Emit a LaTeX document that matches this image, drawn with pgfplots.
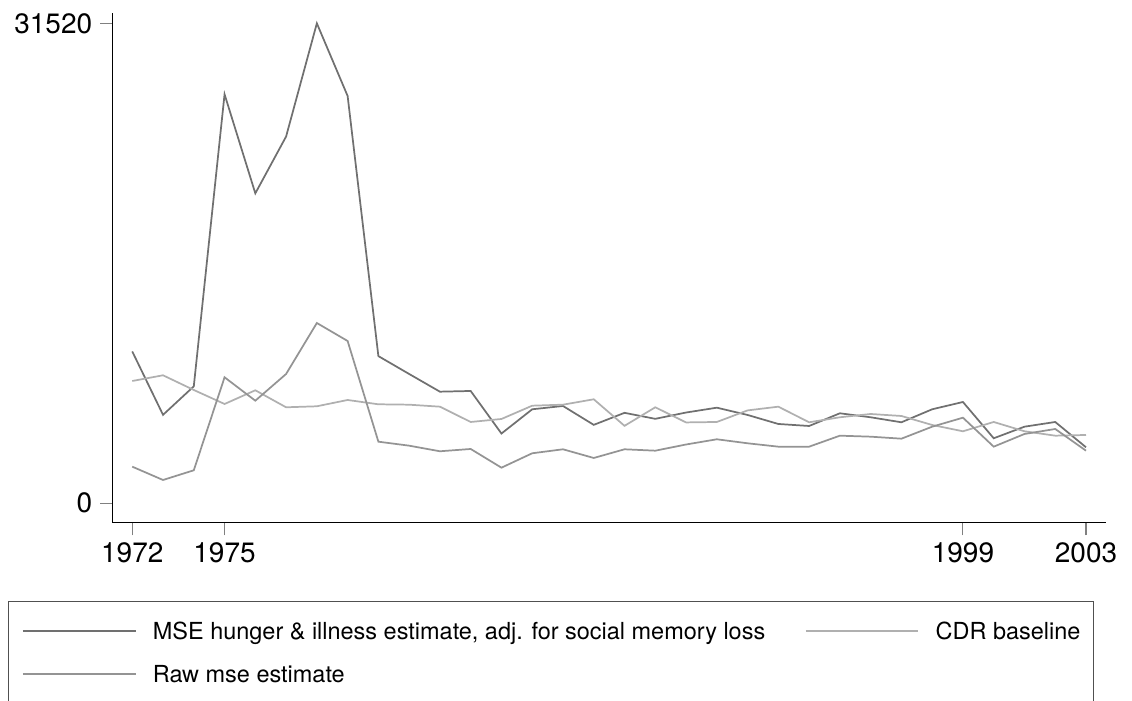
\documentclass[border=0pt]{standalone}
\usepackage{pgfplots}
\pgfplotsset{compat=1.18}
\usepackage{pgfplotstable}
\usepackage{fontspec}
\setmainfont{TeX Gyre Heros}
\definecolor{cA}{RGB}{112,112,112}
\definecolor{cB}{RGB}{148,148,148}
\definecolor{cC}{RGB}{176,176,176}
\pgfplotstableread{
year A C B
1972 9970 8031 2404
1973 5808 8406 1530
1974 7680 7440 2167
1975 26860 6521 8274
1976 20355 7421 6738
1977 24085 6304 8491
1978 31520 6370 11840
1979 26750 6784 10658
1980 9665 6501 4045
1981 8491 6475 3783
1982 7329 6344 3415
1983 7375 5339 3566
1984 4580 5536 2338
1985 6173 6409 3284
1986 6390 6475 3546
1987 5150 6830 2975
1988 5940 5086 3546
1989 5546 6304 3454
1990 5960 5310 3860
1991 6278 5339 4203
1992 5800 6100 3940
1993 5208 6344 3717
1994 5076 5319 3717
1995 5910 5648 4439
1996 5648 5864 4374
1997 5319 5733 4242
1998 6173 5142 5030
1999 6652 4728 5621
2000 4269 5339 3717
2001 5030 4728 4551
2002 5339 4439 4879
2003 3677 4485 3454
}\datatable
\begin{document}
\begin{tikzpicture}
\useasboundingbox (-84.5pt,-133.7pt) rectangle (764.5pt,392pt);
\clip (-84.5pt,-133.7pt) rectangle (764.5pt,392pt);
\begin{axis}[
  scale only axis, width=745pt, height=382pt,
  xmin=1971.363, xmax=2003.65, ymin=-1274, ymax=32177,
  axis x line*=bottom, axis y line*=left,
  axis line style={-, black, line width=0.8pt},
  xtick={1972,1975,1999,2003}, xticklabels={1972,1975,1999,2003},
  ytick={0,31520}, yticklabels={0,31520},
  tick align=outside, major tick length=9.5pt,
  tick style={color=gray, line width=0.8pt},
  ticklabel style={font=\fontsize{21}{24}\selectfont, inner sep=0pt},
  xticklabel style={yshift=-5pt},
  yticklabel style={xshift=-5.7pt},
  legend cell align=left,
  legend image code/.code={\draw[#1] (0pt,0pt) -- (84.5pt,0pt);},
  legend style={
    at={(-0.1051,-0.1537)}, anchor=north west,
    draw={rgb,255:red,80;green,80;blue,80}, line width=0.75pt,
    inner xsep=10pt, inner ysep=6.3pt,
    font=\fontsize{17.6}{21}\selectfont,
    nodes={inner sep=0pt, text height=22.3pt, text depth=9.7pt},
    /tikz/every odd column/.append style={column sep=12.3pt},
    legend columns=2,
  },
]
\addplot[cA, line width=1.3pt] table[x=year, y=A] {\datatable};
\addlegendentry{\makebox[489pt][l]{MSE hunger \& illness estimate, adj. for social memory loss}}
\addplot[cC, line width=1.3pt] table[x=year, y=C] {\datatable};
\addlegendentry{CDR baseline}
\addplot[cB, line width=1.3pt] table[x=year, y=B] {\datatable};
\addlegendentry{Raw mse estimate}
\end{axis}
\end{tikzpicture}
\end{document}
